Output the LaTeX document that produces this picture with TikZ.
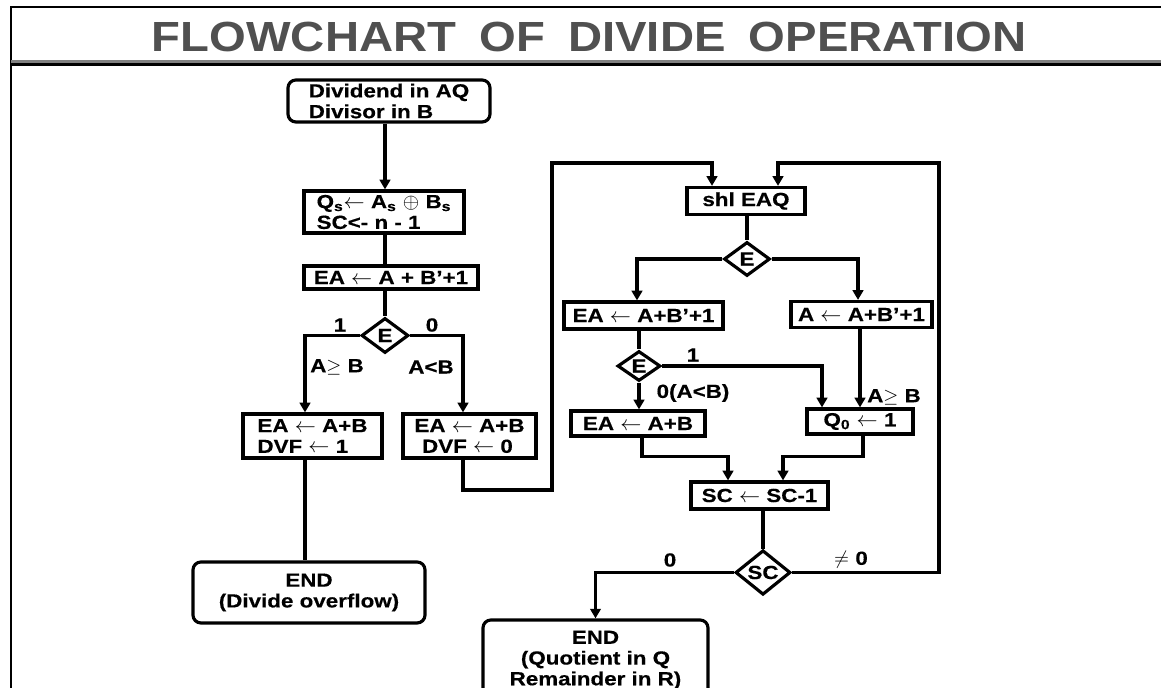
\documentclass[tikz,border=0pt]{standalone}
\usepackage{fontspec}
\setmainfont{Liberation Sans}[FakeStretch=1.18,BoldFeatures={FakeBold=0.4}]
\newfontfamily\titlefont{Liberation Sans}[FakeStretch=1.12]
\usetikzlibrary{shapes.geometric,arrows.meta,calc}
\definecolor{titlegray}{RGB}{80,80,80}
\newcommand\larr{{\fontsize{12.5}{12}\selectfont$\leftarrow$}}
\newcommand\xorsym{{\fontsize{13}{12}\selectfont$\oplus$}}
\begin{document}
\begin{tikzpicture}[x=0.02cm,y=-0.02cm,
  every node/.style={font=\fontsize{10.8}{11.8}\selectfont\bfseries},
  box/.style={draw,line width=1.8pt,inner sep=0pt,align=left},
  rbox/.style={box,rounded corners=4.5pt,align=center},
  decision/.style={draw,diamond,line width=1.8pt,inner sep=0pt},
  conn/.style={draw,line width=2pt},
  arr/.style={conn,-{Triangle[length=5.5pt,width=6pt]}},
  lbl/.style={inner sep=0pt}]
\clip (0,0) rectangle (1161,688);
% frame
\draw[line width=1.1pt] (11,688) -- (11,7) -- (1161,7);
\draw[line width=1.2pt, gray] (11,61.5) -- (1161,61.5);
\draw[line width=1.8pt] (11,64.5) -- (1161,64.5);
\node[font=\titlefont\fontsize{24}{28}\selectfont\bfseries, text=titlegray] (title) at (589,37)
  {FLOWCHART\hspace{0.55em}OF\hspace{0.55em}DIVIDE\hspace{0.55em}OPERATION};
% nodes
\node[rbox,align=left,minimum width={202*0.02cm},minimum height={42*0.02cm}] (start) at (389,101) {Dividend in AQ\\Divisor in B};
\node[box,minimum width={160*0.02cm},minimum height={42*0.02cm}] (init) at (384,212) {Q\textsubscript{s}\larr\ A\textsubscript{s} \xorsym\ B\textsubscript{s}\\SC<- n - 1};
\node[box,minimum width={174*0.02cm},minimum height={23*0.02cm}] (sub1) at (391,277.5) {EA \larr\ A + B’+1};
\node[decision,minimum width={47*0.02cm},minimum height={35*0.02cm}] (e1) at (385,335.5) {E};
\node[box,minimum width={139*0.02cm},minimum height={44*0.02cm}] (ovf) at (312.5,436) {EA \larr\ A+B\\DVF \larr\ 1};
\node[box,minimum width={133*0.02cm},minimum height={44*0.02cm}] (nov) at (469.5,436) {EA \larr\ A+B\\\hspace*{0.4em}DVF \larr\ 0};
\node[rbox,minimum width={232*0.02cm},minimum height={61*0.02cm}] (endovf) at (309,592.5) {END\\(Divide overflow)};
\node[box,minimum width={118*0.02cm},minimum height={27*0.02cm}] (shl) at (746,201) {shl EAQ};
\node[decision,minimum width={46*0.02cm},minimum height={34*0.02cm}] (e2) at (747,259) {E};
\node[box,minimum width={159*0.02cm},minimum height={27*0.02cm}] (sub2) at (643.5,315.5) {EA \larr\ A+B’+1};
\node[box,minimum width={141*0.02cm},minimum height={26*0.02cm}] (sub3) at (861.5,314.5) {A \larr\ A+B’+1};
\node[decision,minimum width={43*0.02cm},minimum height={30*0.02cm}] (e3) at (639,366) {E};
\node[box,minimum width={134*0.02cm},minimum height={25*0.02cm}] (add) at (638,423.5) {EA \larr\ A+B};
\node[box,minimum width={106*0.02cm},minimum height={25*0.02cm}] (q0) at (860,421.5) {Q\textsubscript{0} \larr\ 1};
\node[box,minimum width={137*0.02cm},minimum height={27*0.02cm}] (decr) at (759.5,495.5) {SC \larr\ SC-1};
\node[decision,minimum width={55*0.02cm},minimum height={41*0.02cm}] (sc) at (763,572.5) {SC};
\node[rbox,minimum width={225*0.02cm},minimum height={80*0.02cm}] (endq) at (595.5,660) {END\\(Quotient in Q\\Remainder in R)};
% labels
\node[lbl] (l1) at (340,325) {1};
\node[lbl] (l0) at (432,325) {0};
\node[lbl] (lge) at (337,367) {A$\geq$ B};
\node[lbl] (llt) at (431,367) {A<B};
\node[lbl] (l1b) at (693,355) {1};
\node[lbl] (l0b) at (693,393) {0(A<B)};
\node[lbl] (lgeb) at (894,397) {A$\geq$ B};
\node[lbl] (l0c) at (670,560) {0};
\node[lbl] (lne) at (851,560) {$\neq$ 0};
% connectors, left part
\draw[arr] (start.south -| e1.north) -- (init.north -| e1.north);
\draw[conn] (init.south -| e1.north) -- (sub1.north -| e1.north);
\draw[conn] (sub1.south -| e1.north) -- (e1.north);
\coordinate (e1L) at ($(ovf.north)+(-7.5,0)$);
\draw[arr] (e1.west) -| (e1L);
\coordinate (e1R) at ($(nov.north)+(-6.5,0)$);
\draw[arr] (e1.east) -| (e1R);
\coordinate (ovfB) at ($(ovf.south)+(-7.5,0)$);
\draw[conn] (ovfB) -- (ovfB |- endovf.north);
\coordinate (novB) at ($(nov.south)+(-6.5,0)$);
\coordinate (lpA) at (552,490);
\coordinate (lpB) at (552,163);
\coordinate (shlL) at ($(shl.north)+(-34,0)$);
\draw[arr] (novB) |- (lpA) -- (lpB) -| (shlL);
% right part
\draw[conn] (shl.south -| e2.north) -- (e2.north);
\coordinate (sub2T) at ($(sub2.north)+(-6.5,0)$);
\draw[arr] (e2.west) -| (sub2T);
\coordinate (sub3T) at ($(sub3.north)+(-3.5,0)$);
\draw[arr] (e2.east) -| (sub3T);
\draw[conn] (sub2.south -| e3.north) -- (e3.north);
\coordinate (q0L) at ($(q0.north)+(-38,0)$);
\draw[arr] (e3.east) -| (q0L);
\draw[arr] (e3.south) -- (e3.south |- add.north);
\draw[arr] (sub3.south -| q0.north) -- (q0.north);
\coordinate (addB) at ($(add.south)+(4,0)$);
\coordinate (decL) at ($(decr.north)+(-31.5,0)$);
\draw[arr] (addB) -- ++(0,19) -| (decL);
\coordinate (q0B) at ($(q0.south)+(3,0)$);
\coordinate (decR) at ($(decr.north)+(23.5,0)$);
\draw[arr] (q0B) -- ++(0,21) -| (decR);
\draw[conn] (decr.south -| sc.north) -- (sc.north);
\draw[arr] (sc.west) -| (endq.north);
\coordinate (lpC) at (939,163);
\coordinate (shlR) at ($(shl.north)+(32,0)$);
\draw[arr] (sc.east) -| (lpC) -| (shlR);
\end{tikzpicture}
\end{document}
